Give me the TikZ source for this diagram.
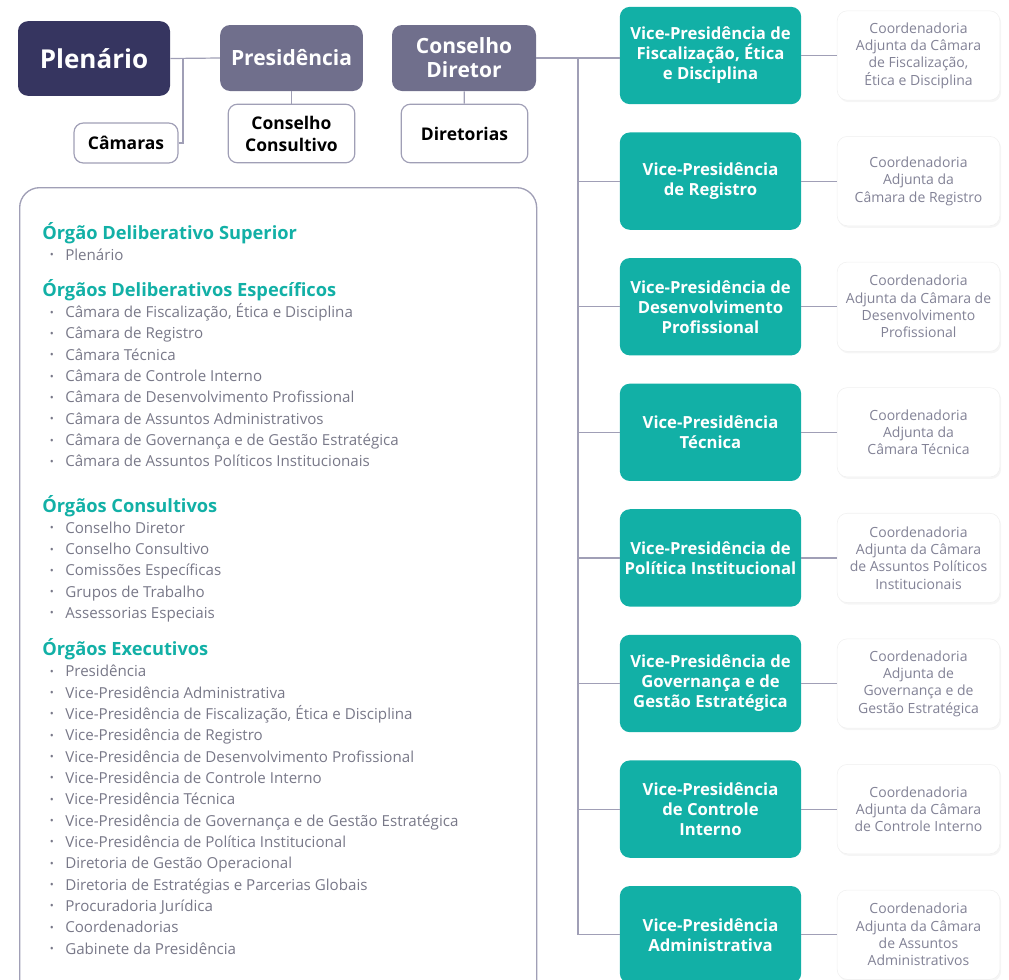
\documentclass[tikz,border=0pt]{standalone}
\usepackage{fontspec}
\setmainfont{Open Sans}
\usepackage{tikz}
\usetikzlibrary{positioning,shadows,calc}
\definecolor{plnavy}{RGB}{54,53,96}
\definecolor{prgray}{RGB}{112,111,140}
\definecolor{vpteal}{RGB}{18,176,166}
\definecolor{lngray}{RGB}{160,159,182}
\definecolor{txgray}{RGB}{120,120,136}
\definecolor{cagray}{RGB}{130,130,150}

\tikzset{
  topbox/.style={rounded corners=7.5pt, text=white, align=center, inner sep=2pt},
  subbox/.style={draw=lngray, line width=0.9pt, fill=white, rounded corners=7pt,
                 align=center, inner sep=2pt, minimum width=95pt, minimum height=44pt,
                 font=\fontsize{13.1}{16.5}\selectfont\bfseries},
  vpbox/.style={fill=vpteal, rounded corners=7.5pt, text=white, align=center,
                minimum width=136pt, minimum height=73pt, inner sep=2pt,
                font=\fontsize{12.5}{15}\selectfont\bfseries},
  cabox/.style={fill=white, draw=black!6, rounded corners=7.5pt, text=cagray, align=center,
                minimum width=122pt, minimum height=67pt, inner sep=2pt,
                drop shadow={opacity=0.08, shadow xshift=1pt, shadow yshift=-1.5pt},
                font=\fontsize{10.5}{13}\selectfont},
  link/.style={draw=lngray, line width=0.9pt},
  grphead/.style={anchor=base west, text=vpteal, inner sep=0pt,
                  font=\fontsize{13.7}{16}\selectfont\bfseries},
  item/.style={anchor=base west, text=txgray, inner sep=0pt,
               font=\fontsize{11.35}{13}\selectfont},
  dot/.style={text=txgray, inner sep=0pt, font=\fontsize{8}{9}\selectfont}
}

\begin{document}
\begin{tikzpicture}[x=0.75pt, y=-0.75pt]
  \useasboundingbox (0,0) rectangle (1009,979);
  \clip (0,0) rectangle (1009,979);

  % top row
  \node[topbox, fill=plnavy, minimum width=114pt, minimum height=56pt,
        font=\fontsize{19.5}{22}\selectfont\bfseries] (plenario) at (94,58.5) {Plenário};
  \node[topbox, fill=prgray, minimum width=107pt, minimum height=49.5pt,
        font=\fontsize{15.75}{18}\selectfont\bfseries] (presid) at (291.5,58) {Presidência};
  \node[topbox, fill=prgray, minimum width=108pt, minimum height=49.5pt,
        font=\fontsize{15.75}{18}\selectfont\bfseries] (consdir) at (464,58) {Conselho\\Diretor};

  \node[subbox, minimum width=78pt, minimum height=30pt] (camaras) at (126,143) {Câmaras};
  \node[subbox] (conscons) at (291.5,133.5) {Conselho\\Consultivo};
  \node[subbox] (diretorias) at (464.5,133.5) {Diretorias};

  \coordinate (pljoin) at (183,58);
  \draw[link] (plenario.east) -- (presid.west);
  \draw[link] (camaras.east) -| (pljoin);
  \draw[link] (presid) -- (conscons);
  \draw[link] (consdir) -- (diretorias);

  % vice-presidencias e coordenadorias
  \foreach \vp/\ca [count=\i] in {
    {Vice-Presidência de\\Fiscalização, Ética\\e Disciplina}/{Coordenadoria\\Adjunta da Câmara\\de Fiscalização,\\Ética e Disciplina},
    {Vice-Presidência\\de Registro}/{Coordenadoria\\Adjunta da\\Câmara de Registro},
    {Vice-Presidência de\\Desenvolvimento\\Profissional}/{Coordenadoria\\Adjunta da Câmara de\\Desenvolvimento\\Profissional},
    {Vice-Presidência\\Técnica}/{Coordenadoria\\Adjunta da\\Câmara Técnica},
    {Vice-Presidência de\\Política Institucional}/{Coordenadoria\\Adjunta da Câmara\\de Assuntos Políticos\\Institucionais},
    {Vice-Presidência de\\Governança e de\\Gestão Estratégica}/{Coordenadoria\\Adjunta de\\Governança e de\\Gestão Estratégica},
    {Vice-Presidência\\de Controle\\Interno}/{Coordenadoria\\Adjunta da Câmara\\de Controle Interno},
    {Vice-Presidência\\Administrativa}/{Coordenadoria\\Adjunta da Câmara\\de Assuntos\\Administrativos}}
  {
    \node[vpbox] (vp\i) at (710.5,{55.5+125.6*(\i-1)}) {\vp};
    \node[cabox] (ca\i) at (918.5,{55.5+125.6*(\i-1)}) {\ca};
    \draw[link] (vp\i) -- (ca\i);
  }

  \coordinate (trunk) at (578,58);
  \draw[link] (consdir.east) -- (consdir.east -| vp1.west);
  \draw[link] (trunk) -- (trunk |- vp8.west);
  \foreach \i in {2,...,8}
    \draw[link] (trunk |- vp\i.west) -- (vp\i.west);

  % quadro dos orgaos
  \node[draw=lngray, line width=1pt, rounded corners=15pt, anchor=north west,
        minimum width=387.75pt, minimum height=630pt] (orgaos) at (19,187) {};

  \node[grphead] (g1) at (42,239.3) {Órgão Deliberativo Superior};
  \node[item] (g1i1) at (65,260) {Plenário};
  \node[dot] at (52,256) {•};

  \node[grphead] (g2) at (42,296) {Órgãos Deliberativos Específicos};
  \foreach \txt [count=\i] in {{Câmara de Fiscalização, Ética e Disciplina},
      Câmara de Registro, Câmara Técnica, Câmara de Controle Interno,
      Câmara de Desenvolvimento Profissional, Câmara de Assuntos Administrativos,
      Câmara de Governança e de Gestão Estratégica,
      Câmara de Assuntos Políticos Institucionais}
  {
    \node[item] (g2i\i) at (65,{317.7+21.29*(\i-1)}) {\txt};
    \node[dot] at (52,{313.7+21.29*(\i-1)}) {•};
  }

  \node[grphead] (g3) at (42,512) {Órgãos Consultivos};
  \foreach \txt [count=\i] in {Conselho Diretor, Conselho Consultivo,
      Comissões Específicas, Grupos de Trabalho, Assessorias Especiais}
  {
    \node[item] (g3i\i) at (65,{533.3+21.25*(\i-1)}) {\txt};
    \node[dot] at (52,{529.3+21.25*(\i-1)}) {•};
  }

  \node[grphead] (g4) at (42,655) {Órgãos Executivos};
  \foreach \txt [count=\i] in {Presidência, Vice-Presidência Administrativa,
      {Vice-Presidência de Fiscalização, Ética e Disciplina},
      Vice-Presidência de Registro, Vice-Presidência de Desenvolvimento Profissional,
      Vice-Presidência de Controle Interno, Vice-Presidência Técnica,
      Vice-Presidência de Governança e de Gestão Estratégica,
      Vice-Presidência de Política Institucional, Diretoria de Gestão Operacional,
      Diretoria de Estratégias e Parcerias Globais, Procuradoria Jurídica,
      Coordenadorias, Gabinete da Presidência}
  {
    \node[item] (g4i\i) at (65,{676.7+21.33*(\i-1)}) {\txt};
    \node[dot] at (52,{672.7+21.33*(\i-1)}) {•};
  }
\end{tikzpicture}
\end{document}
